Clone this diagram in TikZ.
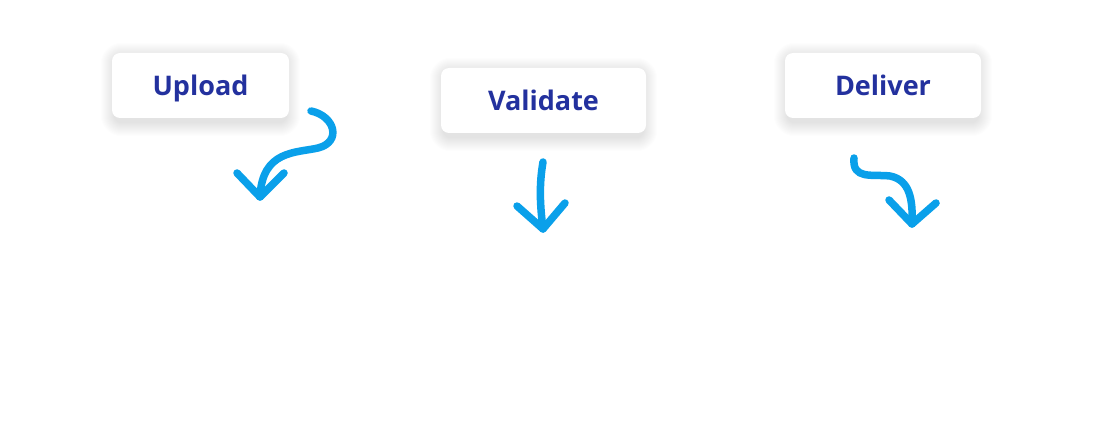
\documentclass[tikz,border=0pt]{standalone}
\usepackage{fontspec}
\setmainfont{Open Sans}
\pgfdeclarelayer{back}
\pgfdeclarelayer{bg}
\pgfsetlayers{back,bg,main}
\definecolor{labelblue}{HTML}{23319E}
\definecolor{arrowblue}{HTML}{0AA0EA}
\tikzset{
  card/.style={rounded corners=8pt, fill=white, draw=none,
    minimum height=65pt, inner sep=0pt, text=labelblue,
    text height=21pt, text depth=0pt,
    font=\fontsize{27}{31}\selectfont\bfseries},
  squiggle/.style={draw=arrowblue, line width=7.5pt, line cap=round, line join=round},
  shade layer/.style={fill=black, opacity=0.006}
}
\begin{document}
\begin{tikzpicture}[x=1pt,y=-1pt]
\begin{pgfonlayer}{back}
\fill[white] (0,0) rectangle (1110,438);
\end{pgfonlayer}
\useasboundingbox (0,0) rectangle (1110,438);
\node[card, minimum width=177pt] (upload) at (200.5,85.5) {Upload};
\node[card, minimum width=205pt] (validate) at (543.5,100.5) {Validate};
\node[card, minimum width=196pt] (deliver) at (883,85.5) {Deliver};
\begin{pgfonlayer}{bg}
\foreach \n in {upload,validate,deliver}{
  \foreach \i in {0,1,...,13}{
    \fill[shade layer, rounded corners={8pt+\i pt}]
      ([xshift=-\i pt+2pt, yshift=\i pt-3pt]\n.north west) rectangle
      ([xshift=\i pt-2pt, yshift=-\i pt-5pt]\n.south east);
  }
}
\end{pgfonlayer}

% Upload arrow
\coordinate (u0) at (311,111);
\coordinate (u1) at (260,197);
\coordinate (ul) at (237,173);
\coordinate (ur) at (284,173);
\draw[squiggle] (u0) .. controls (335,116) and (342,142) .. (318,148)
  .. controls (296,153) and (262,150) .. (u1);
\draw[squiggle] (ul) -- (u1) -- (ur);

% Validate arrow
\coordinate (v0) at (543,162);
\coordinate (v1) at (543,229);
\coordinate (vl) at (517,206);
\coordinate (vr) at (565,203);
\draw[squiggle] (v0) .. controls (539,185) and (540,205) .. (v1);
\draw[squiggle] (vl) -- (v1) -- (vr);

% Deliver arrow
\coordinate (d0) at (854,158);
\coordinate (d1) at (912,224);
\coordinate (dl) at (889,200);
\coordinate (dr) at (936,203);
\draw[squiggle] (d0) .. controls (852,180) and (872,174) .. (890,176)
  .. controls (910,180) and (913,200) .. (d1);
\draw[squiggle] (dl) -- (d1) -- (dr);
\end{tikzpicture}
\end{document}
